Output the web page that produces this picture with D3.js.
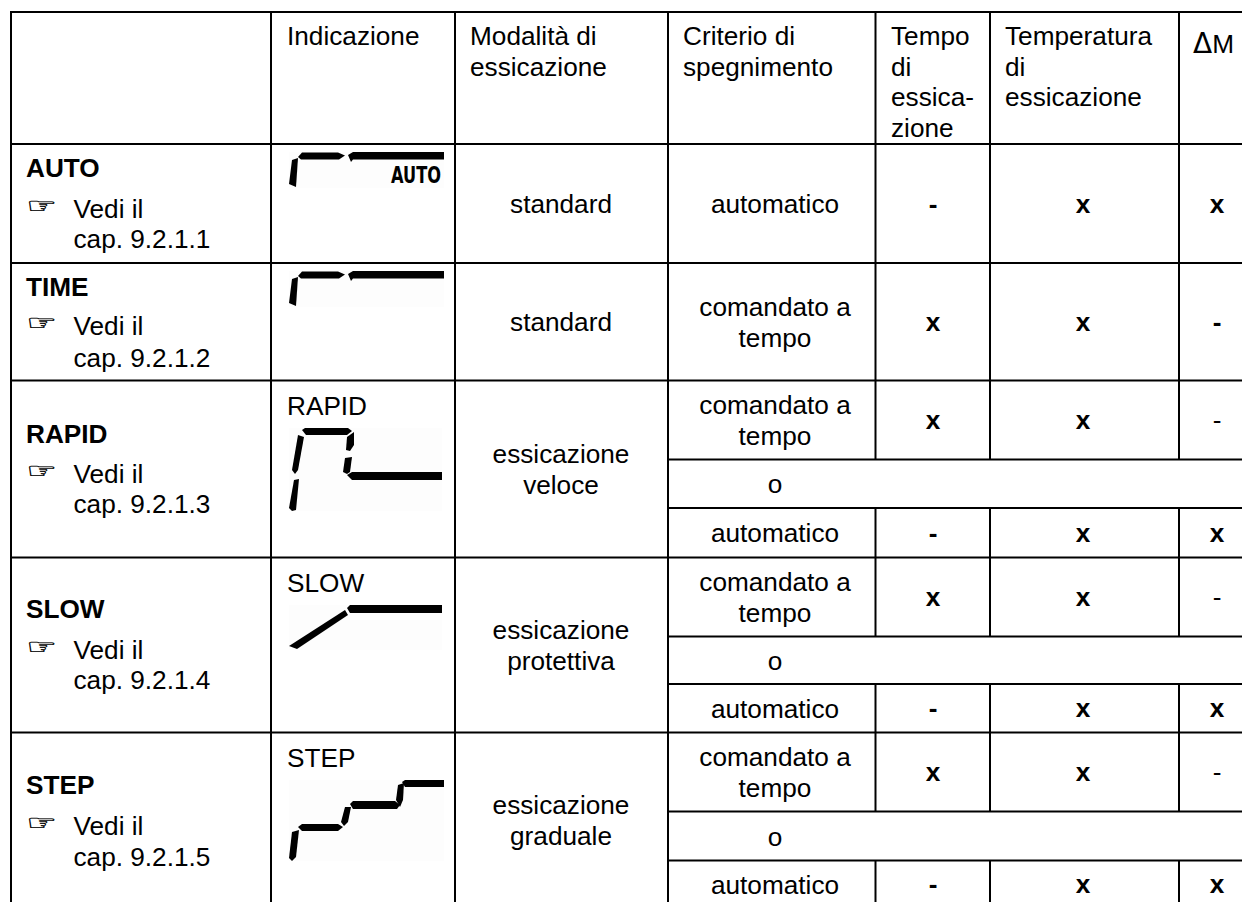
<!DOCTYPE html>
<html>
<head>
<meta charset="utf-8">
<script src="https://cdn.jsdelivr.net/npm/d3@7"></script>
<style>
html, body { margin: 0; padding: 0; background: #fff; overflow: hidden; }
svg { display: block; }
text { font-family: "Liberation Sans", Arial, sans-serif; fill: #000; }
</style>
</head>
<body>
<div id="chart"></div>
<script>
// table content
var headers = [[], ["Indicazione"], ["Modalità di", "essicazione"], ["Criterio di", "spegnimento"],
    ["Tempo", "di", "essica-", "zione"], ["Temperatura", "di", "essicazione"]];
var modes = ["AUTO", "TIME", "RAPID", "SLOW", "STEP"];
var chapters = ["cap. 9.2.1.1", "cap. 9.2.1.2", "cap. 9.2.1.3", "cap. 9.2.1.4", "cap. 9.2.1.5"];
var indications = ["", "", "RAPID", "SLOW", "STEP"];
var dryingModes = [["standard"], ["standard"], ["essicazione", "veloce"],
    ["essicazione", "protettiva"], ["essicazione", "graduale"]];
var criteria = [["automatico"], ["comandato a", "tempo"],
    ["comandato a", "tempo"], ["o"], ["automatico"],
    ["comandato a", "tempo"], ["o"], ["automatico"],
    ["comandato a", "tempo"], ["o"], ["automatico"]];
var dryTime = ["-", "x", "x", "", "-", "x", "", "-", "x", "", "-"];
var dryTemp = ["x", "x", "x", "", "x", "x", "", "x", "x", "", "x"];
var deltaM = ["x", "-", "-", "", "x", "-", "", "x", "-", "", "x"];
var thinDash = [false, false, true, false, false, true, false, false, true, false, false];

// grid layout (last row runs past the page bottom)
var colEdges = [11, 271, 455, 668, 875.5, 990, 1179];
var rowEdges = [144, 263, 380.5, 459.5, 508, 557.5, 636.5, 684, 732.5, 811.5, 860.5, 908];
var modeSpans = [[0, 1], [1, 2], [2, 5], [5, 8], [8, 11]];
var labelY = [[177, 218, 248], [296, 335, 367], [443, 483, 513], [618, 659, 689], [794, 835, 866]];

var width = 1242, height = 902, fontSize = 26.2, lineGap = 31;

var svg = d3.select("#chart").append("svg")
    .attr("width", width)
    .attr("height", height);

var xEdge = d3.scaleOrdinal().domain(d3.range(colEdges.length)).range(colEdges);
var yEdge = d3.scaleOrdinal().domain(d3.range(rowEdges.length)).range(rowEdges);
var centreX = { mode: 561, crit: 775, time: 933, temp: 1083, delta: 1217 };

function addText(x, y, str, anchor, bold, size) {
    return svg.append("text")
        .attr("x", x).attr("y", y)
        .attr("text-anchor", anchor || "start")
        .attr("font-weight", bold ? "bold" : "normal")
        .attr("font-size", size || fontSize)
        .text(str);
}

// several lines centred vertically on yc
function addBlock(x, yc, lines, anchor) {
    var first = yc + 9.5 - (lines.length - 1) * lineGap / 2;
    lines.forEach(function(l, i) {
        addText(x, first + i * lineGap, l, anchor);
    });
}

// lcd icons, segments in page units relative to icon origin
var lcdTop = [[[9, 5], [13, 0.5], [49, 0.5], [56, 3.5], [50, 7.5], [12, 7.5]],
    [[59, 3], [64, 0], [155, 0], [155, 7.5], [64, 7.5], [62, 10]],
    [[3, 8], [9, 6], [7, 35], [0, 32]]];
var lcdRapid = [[[13, 2], [16, 0], [59, 0], [63, 3], [58, 7], [17, 7]],
    [[9, 7], [15, 9], [9, 42], [6, 46], [3, 42]],
    [[5, 52], [10, 51], [7, 82], [3, 83], [0, 80]],
    [[58, 9], [65, 4], [65, 17], [61, 23], [57, 22]],
    [[56, 30], [63, 29], [61, 44], [58, 46], [54, 44]],
    [[58, 47], [63, 44], [153, 44], [153, 52], [63, 52]]];
var lcdSlow = [[[58, 3], [61, 0], [153, 0], [153, 8], [61, 8]],
    [[56, 5], [59, 10], [8, 44], [0, 41]]];
var lcdStep = [[[3, 52], [10, 50], [7, 77], [3, 81], [0, 78]],
    [[9, 47], [13, 44], [49, 44], [54, 47], [49, 51], [13, 51]],
    [[56, 27], [62, 27], [59, 42], [55, 46], [52, 42]],
    [[61, 24], [64, 21], [106, 21], [111, 25], [108, 29], [64, 29]],
    [[109, 5], [115, 3], [114, 20], [111, 27], [107, 20]],
    [[113, 2], [116, 0], [155, 0], [155, 7], [116, 7]]];

var icons = [
    { segs: lcdTop, x: 289, y: 152, w: 155, h: 36, label: "AUTO" },
    { segs: lcdTop, x: 289, y: 271, w: 155, h: 36 },
    { segs: lcdRapid, x: 289, y: 428, w: 153, h: 83 },
    { segs: lcdSlow, x: 289, y: 605, w: 153, h: 45 },
    { segs: lcdStep, x: 289, y: 780, w: 155, h: 81 }
];

var segLine = d3.line().curve(d3.curveLinearClosed);
icons.forEach(function(ic) {
    svg.append("rect")
        .attr("x", ic.x).attr("y", ic.y)
        .attr("width", ic.w).attr("height", ic.h)
        .attr("fill", "#fdfdfd");
    var g = svg.append("g").attr("transform", "translate(" + ic.x + "," + ic.y + ")");
    g.selectAll("path").data(ic.segs).enter().append("path")
        .attr("d", segLine)
        .attr("fill", "#000");
    if (ic.label) {
        g.append("text")
            .attr("x", 102).attr("y", 31)
            .attr("font-size", 23)
            .attr("font-weight", "bold")
            .attr("textLength", 50)
            .attr("lengthAdjust", "spacingAndGlyphs")
            .style("font-family", "'DejaVu Sans'")
            .text(ic.label);
    }
});

// header row
var headerX = [0, 287, 470, 683, 891, 1005];
headers.forEach(function(lines, i) {
    lines.forEach(function(l, j) {
        addText(headerX[i], 45 + j * 30.5, l);
    });
});
var dm = addText(1193, 53, "");
dm.append("tspan").style("font-family", "'DejaVu Sans'").attr("font-size", 28).text("Δ");
dm.append("tspan").text("M");

// first columns, one block per mode
modes.forEach(function(m, i) {
    var y = labelY[i];
    addText(26, y[0], m, "start", true);
    // the hand in the original is flatter and darker than the font glyph
    svg.append("text")
        .attr("transform", "translate(26," + (y[1] - 5) + ") scale(1,0.62)")
        .attr("font-size", 34)
        .attr("stroke", "#000")
        .attr("stroke-width", 0.5)
        .style("font-family", "'DejaVu Sans'")
        .text("☞");
    addText(73.5, y[1], "Vedi il");
    addText(73.5, y[2], chapters[i]);
    if (indications[i]) {
        addText(287, yEdge(modeSpans[i][0]) + 34, indications[i]);
    }
    var yc = (yEdge(modeSpans[i][0]) + yEdge(modeSpans[i][1])) / 2;
    addBlock(centreX.mode, yc, dryingModes[i], "middle");
});

// right hand sub rows
criteria.forEach(function(lines, r) {
    var yc = (yEdge(r) + yEdge(r + 1)) / 2;
    addBlock(centreX.crit, yc, lines, "middle");
    addText(centreX.time, yc + 9, dryTime[r], "middle", true);
    addText(centreX.temp, yc + 9, dryTemp[r], "middle", true);
    addText(centreX.delta, yc + 9, deltaM[r], "middle", !thinDash[r]);
});

// grid lines
var lines = svg.append("g").attr("stroke", "#000").attr("stroke-width", 2);
function hLine(x1, x2, y) {
    lines.append("line").attr("x1", x1).attr("x2", x2).attr("y1", y).attr("y2", y);
}
function vLine(x, y1, y2) {
    lines.append("line").attr("x1", x).attr("x2", x).attr("y1", y1).attr("y2", y2);
}
hLine(xEdge(0) - 1, width, 12);
rowEdges.slice(0, -1).forEach(function(y, r) {
    var main = modeSpans.some(function(s) { return s[0] === r; });
    hLine(main ? xEdge(0) : xEdge(3), width, y);
});
[0, 1, 2, 3].forEach(function(c) { vLine(xEdge(c), 12, height); });
[4, 5, 6].forEach(function(c) {
    vLine(xEdge(c), 12, yEdge(3));
    vLine(xEdge(c), yEdge(4), yEdge(6));
    vLine(xEdge(c), yEdge(7), yEdge(9));
    vLine(xEdge(c), yEdge(10), height);
});
</script>
</body>
</html>
